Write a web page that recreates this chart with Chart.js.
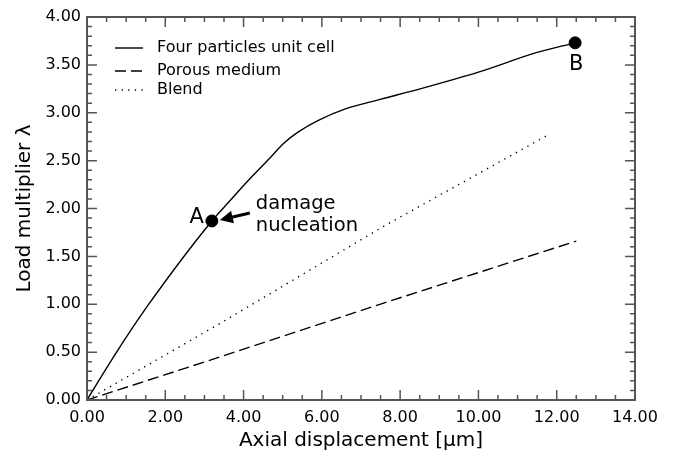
<!DOCTYPE html>
<html>
<head>
<meta charset="utf-8">
<script src="https://cdn.jsdelivr.net/npm/chart.js@4.4.1/dist/chart.umd.min.js"></script>
<style>
  html, body { margin: 0; padding: 0; background: #fff; }
  canvas { display: block; }
</style>
</head>
<body>
<canvas id="chart" width="673" height="455"></canvas>
<script>
// axial displacement [µm] vs load multiplier for each model
let unitCellX = [0, 0.74, 1.56, 3.19, 3.65, 4.16, 4.68, 5.02, 5.40, 5.91, 6.60, 7.49, 8.51, 10.04, 11.50, 12.47];
let unitCellY = [0, 0.49, 0.99, 1.87, 2.08, 2.31, 2.53, 2.68, 2.80, 2.92, 3.04, 3.14, 3.25, 3.43, 3.63, 3.73];
let porousX = [0, 3.40, 7.56, 12.50];
let porousY = [0, 0.45, 1.01, 1.66];
let blendX = [0, 3.40, 7.56, 11.83];
let blendY = [0, 0.80, 1.81, 2.78];
let seriesNames = ["Four particles unit cell", "Porous medium", "Blend"];

// marked states on the unit cell curve
let markNames = ["A", "B"];
let markX = [3.19, 12.47];
let markY = [1.87, 3.73];

let font = "'DejaVu Sans', sans-serif";

function pts(xs, ys) {
    return xs.map((x, i) => ({ x: x, y: ys[i] }));
}

// box around the plot with inward tick marks on every side
const framePlugin = {
    id: 'frame',
    afterDatasetsDraw(chart) {
        const { ctx, chartArea: a, scales: { x, y } } = chart;
        ctx.save();
        ctx.strokeStyle = '#555';
        ctx.lineWidth = 1.5;
        ctx.beginPath();
        for (let i = 0; i <= 28; i++) {
            const px = x.getPixelForValue(i * 0.5);
            const len = i % 4 === 0 ? 10 : 5;
            ctx.moveTo(px, a.bottom); ctx.lineTo(px, a.bottom - len);
            ctx.moveTo(px, a.top); ctx.lineTo(px, a.top + len);
        }
        for (let i = 0; i <= 40; i++) {
            const py = y.getPixelForValue(i * 0.1);
            const len = i % 5 === 0 ? 10 : 5;
            ctx.moveTo(a.left, py); ctx.lineTo(a.left + len, py);
            ctx.moveTo(a.right, py); ctx.lineTo(a.right - len, py);
        }
        ctx.stroke();
        ctx.lineWidth = 2;
        ctx.strokeRect(a.left, a.top, a.right - a.left, a.bottom - a.top);
        ctx.restore();
    }
};

// legend in the upper left corner of the plot
const legendPlugin = {
    id: 'innerLegend',
    afterDraw(chart) {
        const { ctx, chartArea: a } = chart;
        const rows = [31, 54, 73];
        ctx.save();
        ctx.font = "16px " + font;
        ctx.fillStyle = '#000';
        ctx.textBaseline = 'middle';
        for (let i = 0; i < 3; i++) {
            const ds = chart.data.datasets[i];
            const yy = a.top + rows[i];
            ctx.strokeStyle = '#000';
            ctx.lineWidth = ds.borderWidth;
            ctx.setLineDash(ds.borderDash || []);
            ctx.beginPath();
            ctx.moveTo(a.left + 28, yy);
            ctx.lineTo(a.left + 56, yy);
            ctx.stroke();
            ctx.fillText(ds.label, a.left + 70, yy);
        }
        ctx.restore();
    }
};

// point labels and the damage nucleation arrow
const notesPlugin = {
    id: 'notes',
    afterDraw(chart) {
        const { ctx, scales: { x, y } } = chart;
        const ax = x.getPixelForValue(markX[0]), ay = y.getPixelForValue(markY[0]);
        const bx = x.getPixelForValue(markX[1]), by = y.getPixelForValue(markY[1]);
        ctx.save();
        ctx.fillStyle = '#000';
        ctx.font = "21px " + font;
        ctx.textBaseline = 'middle';
        ctx.textAlign = 'right';
        ctx.fillText(markNames[0], ax - 8, ay - 3);
        ctx.textAlign = 'center';
        ctx.fillText(markNames[1], bx + 1, by + 22);

        ctx.font = "19.5px " + font;
        ctx.textAlign = 'left';
        ctx.textBaseline = 'alphabetic';
        ctx.fillText("damage", ax + 44, ay - 12);
        ctx.fillText("nucleation", ax + 44, ay + 10);

        // arrow pointing at A
        const tipX = ax + 8, tipY = ay - 1;
        const tailX = ax + 38, tailY = ay - 8;
        const ang = Math.atan2(tailY - tipY, tailX - tipX);
        ctx.strokeStyle = '#000';
        ctx.lineWidth = 3;
        ctx.beginPath();
        ctx.moveTo(tailX, tailY);
        ctx.lineTo(tipX + 10 * Math.cos(ang), tipY + 10 * Math.sin(ang));
        ctx.stroke();
        ctx.beginPath();
        ctx.moveTo(tipX, tipY);
        ctx.lineTo(tipX + 13 * Math.cos(ang) - 6.5 * Math.sin(ang), tipY + 13 * Math.sin(ang) + 6.5 * Math.cos(ang));
        ctx.lineTo(tipX + 13 * Math.cos(ang) + 6.5 * Math.sin(ang), tipY + 13 * Math.sin(ang) - 6.5 * Math.cos(ang));
        ctx.closePath();
        ctx.fill();
        ctx.restore();
    }
};

let context = document.getElementById("chart").getContext("2d");

let data = {
    datasets: [
        {
            label: seriesNames[0],
            data: pts(unitCellX, unitCellY),
            borderColor: '#000',
            borderWidth: 1.4,
            cubicInterpolationMode: 'monotone',
            pointRadius: 0
        },
        {
            label: seriesNames[1],
            data: pts(porousX, porousY),
            borderColor: '#000',
            borderWidth: 1.4,
            borderDash: [11, 5],
            pointRadius: 0
        },
        {
            label: seriesNames[2],
            data: pts(blendX, blendY),
            borderColor: '#000',
            borderWidth: 1.4,
            borderDash: [1.3, 5.3],
            pointRadius: 0
        },
        {
            label: 'marks',
            data: pts(markX, markY),
            showLine: false,
            pointRadius: 6,
            pointBackgroundColor: '#000',
            pointBorderColor: '#000'
        }
    ]
};

let options = {
    responsive: false,
    animation: false,
    devicePixelRatio: 1,
    layout: { padding: { left: 0, right: 38, top: 17, bottom: 0 } },
    plugins: {
        legend: { display: false },
        tooltip: { enabled: false }
    },
    scales: {
        x: {
            type: 'linear',
            min: 0,
            max: 14,
            afterFit: s => { s.height = 55; },
            grid: { display: false, drawTicks: false },
            border: { display: false },
            ticks: {
                stepSize: 2,
                padding: 8,
                color: '#000',
                font: { family: font, size: 16 },
                callback: v => v.toFixed(2)
            },
            title: {
                display: true,
                text: 'Axial displacement [µm]',
                color: '#000',
                font: { family: font, size: 20 },
                padding: { top: 0, bottom: 2 }
            }
        },
        y: {
            min: 0,
            max: 4,
            afterFit: s => { s.width = 87; },
            grid: { display: false, drawTicks: false },
            border: { display: false },
            ticks: {
                stepSize: 0.5,
                padding: 6,
                color: '#000',
                font: { family: font, size: 16 },
                callback: v => v.toFixed(2)
            },
            title: {
                display: true,
                text: 'Load multiplier λ',
                color: '#000',
                font: { family: font, size: 20 },
                padding: { top: 13, bottom: 0 }
            }
        }
    }
};

let chart = new Chart(context, {
    type: 'line',
    data: data,
    options: options,
    plugins: [framePlugin, legendPlugin, notesPlugin]
});
</script>
</body>
</html>
